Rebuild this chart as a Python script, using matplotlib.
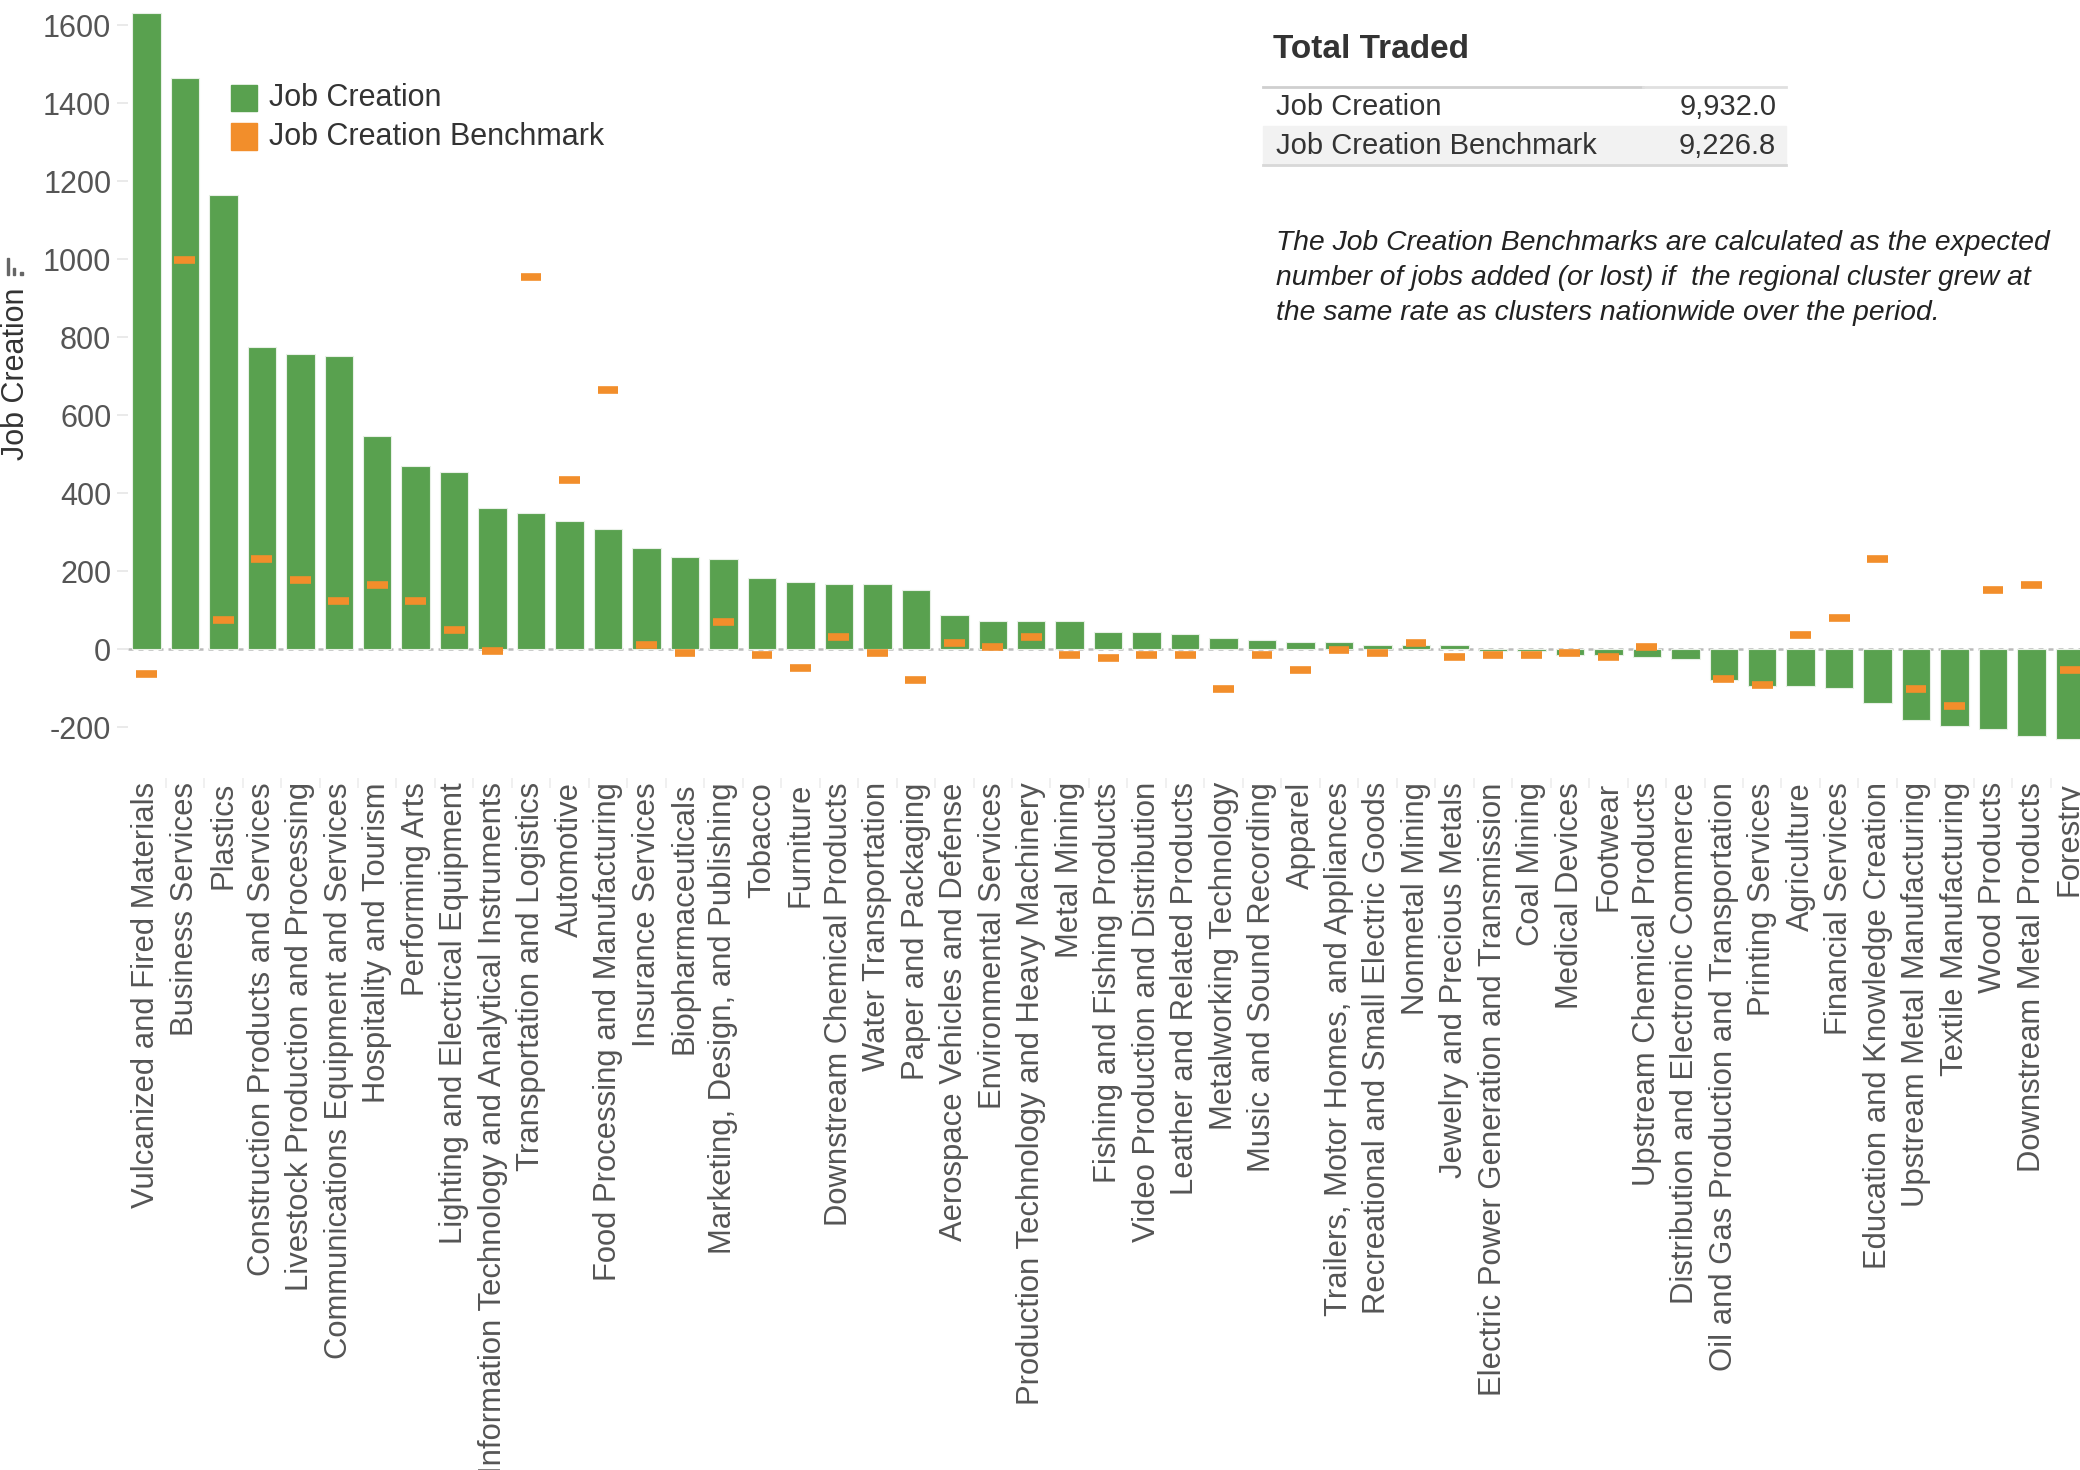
import numpy as np
import matplotlib
matplotlib.use("Agg")
from matplotlib import pyplot as plt
from matplotlib.patches import Rectangle

plt.rcParams['font.family'] = ['Liberation Sans', 'DejaVu Sans']
plt.rcParams['axes.unicode_minus'] = False

clusters = [
    "Vulcanized and Fired Materials", "Business Services", "Plastics",
    "Construction Products and Services", "Livestock Production and Processing",
    "Communications Equipment and Services", "Hospitality and Tourism",
    "Performing Arts", "Lighting and Electrical Equipment",
    "Information Technology and Analytical Instruments",
    "Transportation and Logistics", "Automotive",
    "Food Processing and Manufacturing", "Insurance Services",
    "Biopharmaceuticals", "Marketing, Design, and Publishing", "Tobacco",
    "Furniture", "Downstream Chemical Products", "Water Transportation",
    "Paper and Packaging", "Aerospace Vehicles and Defense",
    "Environmental Services", "Production Technology and Heavy Machinery",
    "Metal Mining", "Fishing and Fishing Products",
    "Video Production and Distribution", "Leather and Related Products",
    "Metalworking Technology", "Music and Sound Recording", "Apparel",
    "Trailers, Motor Homes, and Appliances",
    "Recreational and Small Electric Goods", "Nonmetal Mining",
    "Jewelry and Precious Metals", "Electric Power Generation and Transmission",
    "Coal Mining", "Medical Devices", "Footwear", "Upstream Chemical Products",
    "Distribution and Electronic Commerce",
    "Oil and Gas Production and Transportation", "Printing Services",
    "Agriculture", "Financial Services", "Education and Knowledge Creation",
    "Upstream Metal Manufacturing", "Textile Manufacturing", "Wood Products",
    "Downstream Metal Products", "Forestry",
]

job_creation = [
    1631, 1464, 1165, 776, 757, 752, 546, 471, 456, 363, 349, 329, 309, 260,
    236, 232, 182, 172, 167, 167, 153, 89, 73, 73, 73, 44, 44, 39, 30, 25,
    20, 20, 10, 10, 10, -4, -4, -14, -14, -19, -24, -78, -93, -93, -98,
    -137, -181, -196, -205, -221, -230,
]

benchmark = [
    -63, 999, 75, 232, 178, 124, 164, 124, 50, -5, 955, 433, 665, 11, -9,
    70, -14, -48, 31, -9, -78, 16, 6, 31, -14, -23, -14, -14, -102, -14,
    -53, -2, -9, 16, -19, -14, -14, -9, -19, 6, np.nan, -77, -92, 36, 80,
    232, -102, -146, 153, 164, -53,
]

table_labels = ["Job Creation", "Job Creation Benchmark"]
table_values = [9932.0, 9226.8]

green = "#59A14F"
orange = "#F28E2B"
txt = "#555555"

fig = plt.figure(figsize=(20.8, 14.7), dpi=100)
ax = fig.add_axes([0.0615, 0.4707, 0.9385, 0.5293])

x = np.arange(len(clusters))
ax.bar(x, job_creation, width=0.74, color=green, edgecolor="#e8f0e6", linewidth=0.8, zorder=2)
ax.hlines(benchmark, x - 0.27, x + 0.27, color=orange, linewidth=5.5, zorder=3)
ax.axhline(0, color="#bbbbbb", linestyle=(0, (2, 2)), linewidth=1.8, zorder=1)

ax.set_xlim(-0.48, len(clusters) - 0.74)
ax.set_ylim(-330, 1665)
ax.set_yticks(range(-200, 1601, 200))
ax.tick_params(axis="y", labelsize=22, labelcolor=txt, color="#e6e6e6", length=8, width=1.2, pad=4)
ax.set_xticks(x)
ax.set_xticklabels(clusters, rotation=90, fontsize=22.3, color=txt, va="top", ha="center")
ax.tick_params(axis="x", length=0, pad=3)
ax.set_xticks(x[:-1] + 0.5, minor=True)
ax.tick_params(axis="x", which="minor", length=7, color="#eeeeee", width=1.2)
for s in ax.spines.values():
    s.set_visible(False)

# y axis title with little sort icon
fig.text(0.0078, 0.746, "Job Creation", rotation=90, fontsize=22, color="#333333",
         ha="center", va="center")
for bx, btop in zip([0.0032, 0.0061, 0.0098], [0.8245, 0.8180, 0.8152]):
    fig.patches.append(Rectangle((bx, 0.8130), 0.0013, btop - 0.8130, color="#666666",
                                 transform=fig.transFigure))

# legend
lx, ly = 0.111, 0.9335
for i, (lab, c) in enumerate(zip(table_labels, [green, orange])):
    yy = ly - i * 0.0265
    fig.patches.append(Rectangle((lx, yy - 0.009), 0.0125, 0.018, color=c, transform=fig.transFigure))
    fig.text(lx + 0.0185, yy, lab, fontsize=22, color="#333333", va="center")

# summary table
ax_t = fig.add_axes([0, 0, 1, 1], zorder=3)
ax_t.set_xlim(0, 1)
ax_t.set_ylim(0, 1)
ax_t.axis("off")
tx0, tx1 = 0.607, 0.8585
ax_t.add_patch(Rectangle((tx0, 0.8878), tx1 - tx0, 0.0265, color="#f2f2f2"))
ax_t.plot([tx0, 0.79], [0.9405, 0.9405], color="#cfcfcf", lw=2)
ax_t.plot([0.79, tx1], [0.9405, 0.9405], color="#e0e0e0", lw=2)
ax_t.plot([tx0, tx1], [0.8878, 0.8878], color="#d8d8d8", lw=2)
ax_t.text(0.612, 0.966, "Total Traded", fontsize=24, fontweight="bold", color="#333333", va="center")
for i, (lab, val) in enumerate(zip(table_labels, table_values)):
    yy = 0.9275 - i * 0.0265
    ax_t.text(0.6135, yy, lab, fontsize=21, color="#333333", va="center")
    ax_t.text(0.854, yy, f"{val:,.1f}", fontsize=21, color="#333333", va="center", ha="right")

note = ("The Job Creation Benchmarks are calculated as the expected\n"
        "number of jobs added (or lost) if  the regional cluster grew at\n"
        "the same rate as clusters nationwide over the period.")
ax_t.text(0.6135, 0.8435, note, fontsize=20.3, style="italic", color="#222222", va="top",
          linespacing=1.45)

fig.savefig("out.png", dpi=100)
